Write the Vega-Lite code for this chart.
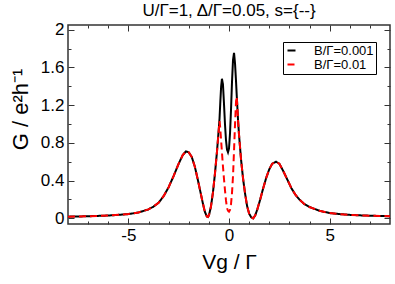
{
  "$schema": "https://vega.github.io/schema/vega-lite/v6.json",
  "width": 322,
  "height": 199,
  "autosize": {"type": "none"},
  "padding": {"left": 68, "top": 25, "right": 5, "bottom": 60},
  "config": {
    "font": "Liberation Sans",
    "view": {"stroke": "#333", "strokeWidth": 1.5},
    "axis": {"grid": false, "domain": false, "tickColor": "#333", "tickWidth": 1, "labelFont": "Liberation Sans", "titleFont": "Liberation Sans", "labelColor": "black", "titleColor": "black", "titleFontWeight": "normal"}
  },
  "title": {"text": "U/Γ=1, Δ/Γ=0.05, s={--}", "fontSize": 17, "fontWeight": "normal", "font": "Liberation Sans", "frame": "group", "anchor": "middle", "offset": 1},
  "datasets": {
    "g": [
      {"x": -8, "g": 0.018, "s": "B/Γ=0.001"}, {"x": -7.5, "g": 0.02, "s": "B/Γ=0.001"}, {"x": -7, "g": 0.022, "s": "B/Γ=0.001"}, {"x": -6.5, "g": 0.026, "s": "B/Γ=0.001"}, {"x": -6, "g": 0.03, "s": "B/Γ=0.001"}, {"x": -5.5, "g": 0.037, "s": "B/Γ=0.001"}, {"x": -5, "g": 0.045, "s": "B/Γ=0.001"}, {"x": -4.5, "g": 0.062, "s": "B/Γ=0.001"}, {"x": -4, "g": 0.095, "s": "B/Γ=0.001"}, {"x": -3.75, "g": 0.125, "s": "B/Γ=0.001"}, {"x": -3.5, "g": 0.165, "s": "B/Γ=0.001"}, {"x": -3.25, "g": 0.235, "s": "B/Γ=0.001"}, {"x": -3, "g": 0.33, "s": "B/Γ=0.001"}, {"x": -2.75, "g": 0.45, "s": "B/Γ=0.001"}, {"x": -2.5, "g": 0.58, "s": "B/Γ=0.001"}, {"x": -2.3, "g": 0.67, "s": "B/Γ=0.001"}, {"x": -2.14, "g": 0.71, "s": "B/Γ=0.001"}, {"x": -2.0, "g": 0.7, "s": "B/Γ=0.001"}, {"x": -1.85, "g": 0.65, "s": "B/Γ=0.001"}, {"x": -1.7, "g": 0.55, "s": "B/Γ=0.001"}, {"x": -1.55, "g": 0.41, "s": "B/Γ=0.001"}, {"x": -1.4, "g": 0.26, "s": "B/Γ=0.001"}, {"x": -1.3, "g": 0.16, "s": "B/Γ=0.001"}, {"x": -1.2, "g": 0.07, "s": "B/Γ=0.001"}, {"x": -1.1, "g": 0.02, "s": "B/Γ=0.001"}, {"x": -1.05, "g": 0.015, "s": "B/Γ=0.001"}, {"x": -1.0, "g": 0.03, "s": "B/Γ=0.001"}, {"x": -0.9, "g": 0.12, "s": "B/Γ=0.001"}, {"x": -0.8, "g": 0.27, "s": "B/Γ=0.001"}, {"x": -0.7, "g": 0.47, "s": "B/Γ=0.001"}, {"x": -0.6, "g": 0.7, "s": "B/Γ=0.001"}, {"x": -0.5, "g": 0.97, "s": "B/Γ=0.001"}, {"x": -0.47, "g": 1.06, "s": "B/Γ=0.001"}, {"x": -0.43, "g": 1.24, "s": "B/Γ=0.001"}, {"x": -0.39, "g": 1.4, "s": "B/Γ=0.001"}, {"x": -0.35, "g": 1.48, "s": "B/Γ=0.001"}, {"x": -0.3, "g": 1.42, "s": "B/Γ=0.001"}, {"x": -0.25, "g": 1.22, "s": "B/Γ=0.001"}, {"x": -0.2, "g": 1.0, "s": "B/Γ=0.001"}, {"x": -0.15, "g": 0.83, "s": "B/Γ=0.001"}, {"x": -0.1, "g": 0.73, "s": "B/Γ=0.001"}, {"x": -0.05, "g": 0.7, "s": "B/Γ=0.001"}, {"x": 0.0, "g": 0.74, "s": "B/Γ=0.001"}, {"x": 0.05, "g": 0.9, "s": "B/Γ=0.001"}, {"x": 0.1, "g": 1.15, "s": "B/Γ=0.001"}, {"x": 0.15, "g": 1.45, "s": "B/Γ=0.001"}, {"x": 0.2, "g": 1.68, "s": "B/Γ=0.001"}, {"x": 0.25, "g": 1.755, "s": "B/Γ=0.001"}, {"x": 0.3, "g": 1.64, "s": "B/Γ=0.001"}, {"x": 0.35, "g": 1.45, "s": "B/Γ=0.001"}, {"x": 0.38, "g": 1.32, "s": "B/Γ=0.001"}, {"x": 0.4, "g": 1.24, "s": "B/Γ=0.001"}, {"x": 0.45, "g": 1.04, "s": "B/Γ=0.001"}, {"x": 0.5, "g": 0.88, "s": "B/Γ=0.001"}, {"x": 0.6, "g": 0.62, "s": "B/Γ=0.001"}, {"x": 0.7, "g": 0.42, "s": "B/Γ=0.001"}, {"x": 0.8, "g": 0.26, "s": "B/Γ=0.001"}, {"x": 0.9, "g": 0.13, "s": "B/Γ=0.001"}, {"x": 1.0, "g": 0.05, "s": "B/Γ=0.001"}, {"x": 1.1, "g": 0.012, "s": "B/Γ=0.001"}, {"x": 1.2, "g": 0.0, "s": "B/Γ=0.001"}, {"x": 1.3, "g": 0.03, "s": "B/Γ=0.001"}, {"x": 1.4, "g": 0.09, "s": "B/Γ=0.001"}, {"x": 1.55, "g": 0.2, "s": "B/Γ=0.001"}, {"x": 1.7, "g": 0.32, "s": "B/Γ=0.001"}, {"x": 1.85, "g": 0.43, "s": "B/Γ=0.001"}, {"x": 2.0, "g": 0.52, "s": "B/Γ=0.001"}, {"x": 2.15, "g": 0.58, "s": "B/Γ=0.001"}, {"x": 2.34, "g": 0.6, "s": "B/Γ=0.001"}, {"x": 2.5, "g": 0.58, "s": "B/Γ=0.001"}, {"x": 2.7, "g": 0.5, "s": "B/Γ=0.001"}, {"x": 2.9, "g": 0.41, "s": "B/Γ=0.001"}, {"x": 3.1, "g": 0.32, "s": "B/Γ=0.001"}, {"x": 3.3, "g": 0.25, "s": "B/Γ=0.001"}, {"x": 3.5, "g": 0.2, "s": "B/Γ=0.001"}, {"x": 3.75, "g": 0.15, "s": "B/Γ=0.001"}, {"x": 4, "g": 0.12, "s": "B/Γ=0.001"}, {"x": 4.5, "g": 0.08, "s": "B/Γ=0.001"}, {"x": 5, "g": 0.056, "s": "B/Γ=0.001"}, {"x": 5.5, "g": 0.045, "s": "B/Γ=0.001"}, {"x": 6, "g": 0.037, "s": "B/Γ=0.001"}, {"x": 6.5, "g": 0.032, "s": "B/Γ=0.001"}, {"x": 7, "g": 0.028, "s": "B/Γ=0.001"}, {"x": 7.5, "g": 0.025, "s": "B/Γ=0.001"}, {"x": 8, "g": 0.022, "s": "B/Γ=0.001"},

      {"x": -8, "g": 0.018, "s": "B/Γ=0.01"}, {"x": -7.5, "g": 0.02, "s": "B/Γ=0.01"}, {"x": -7, "g": 0.022, "s": "B/Γ=0.01"}, {"x": -6.5, "g": 0.026, "s": "B/Γ=0.01"}, {"x": -6, "g": 0.03, "s": "B/Γ=0.01"}, {"x": -5.5, "g": 0.037, "s": "B/Γ=0.01"}, {"x": -5, "g": 0.045, "s": "B/Γ=0.01"}, {"x": -4.5, "g": 0.062, "s": "B/Γ=0.01"}, {"x": -4, "g": 0.095, "s": "B/Γ=0.01"}, {"x": -3.75, "g": 0.125, "s": "B/Γ=0.01"}, {"x": -3.5, "g": 0.165, "s": "B/Γ=0.01"}, {"x": -3.25, "g": 0.235, "s": "B/Γ=0.01"}, {"x": -3, "g": 0.33, "s": "B/Γ=0.01"}, {"x": -2.75, "g": 0.45, "s": "B/Γ=0.01"}, {"x": -2.5, "g": 0.58, "s": "B/Γ=0.01"}, {"x": -2.3, "g": 0.67, "s": "B/Γ=0.01"}, {"x": -2.14, "g": 0.71, "s": "B/Γ=0.01"}, {"x": -2.0, "g": 0.7, "s": "B/Γ=0.01"}, {"x": -1.85, "g": 0.65, "s": "B/Γ=0.01"}, {"x": -1.7, "g": 0.55, "s": "B/Γ=0.01"}, {"x": -1.55, "g": 0.41, "s": "B/Γ=0.01"}, {"x": -1.4, "g": 0.26, "s": "B/Γ=0.01"}, {"x": -1.3, "g": 0.16, "s": "B/Γ=0.01"}, {"x": -1.2, "g": 0.07, "s": "B/Γ=0.01"}, {"x": -1.1, "g": 0.02, "s": "B/Γ=0.01"}, {"x": -1.05, "g": 0.015, "s": "B/Γ=0.01"}, {"x": -1.0, "g": 0.03, "s": "B/Γ=0.01"}, {"x": -0.9, "g": 0.12, "s": "B/Γ=0.01"}, {"x": -0.8, "g": 0.27, "s": "B/Γ=0.01"}, {"x": -0.7, "g": 0.47, "s": "B/Γ=0.01"}, {"x": -0.6, "g": 0.7, "s": "B/Γ=0.01"}, {"x": -0.5, "g": 0.96, "s": "B/Γ=0.01"}, {"x": -0.47, "g": 1.03, "s": "B/Γ=0.01"}, {"x": -0.44, "g": 0.97, "s": "B/Γ=0.01"}, {"x": -0.4, "g": 0.85, "s": "B/Γ=0.01"}, {"x": -0.35, "g": 0.7, "s": "B/Γ=0.01"}, {"x": -0.3, "g": 0.55, "s": "B/Γ=0.01"}, {"x": -0.25, "g": 0.42, "s": "B/Γ=0.01"}, {"x": -0.2, "g": 0.3, "s": "B/Γ=0.01"}, {"x": -0.15, "g": 0.19, "s": "B/Γ=0.01"}, {"x": -0.1, "g": 0.11, "s": "B/Γ=0.01"}, {"x": -0.05, "g": 0.08, "s": "B/Γ=0.01"}, {"x": 0.0, "g": 0.07, "s": "B/Γ=0.01"}, {"x": 0.05, "g": 0.09, "s": "B/Γ=0.01"}, {"x": 0.1, "g": 0.15, "s": "B/Γ=0.01"}, {"x": 0.15, "g": 0.27, "s": "B/Γ=0.01"}, {"x": 0.2, "g": 0.45, "s": "B/Γ=0.01"}, {"x": 0.25, "g": 0.72, "s": "B/Γ=0.01"}, {"x": 0.3, "g": 1.0, "s": "B/Γ=0.01"}, {"x": 0.35, "g": 1.24, "s": "B/Γ=0.01"}, {"x": 0.38, "g": 1.29, "s": "B/Γ=0.01"}, {"x": 0.4, "g": 1.24, "s": "B/Γ=0.01"}, {"x": 0.45, "g": 1.04, "s": "B/Γ=0.01"}, {"x": 0.5, "g": 0.88, "s": "B/Γ=0.01"}, {"x": 0.6, "g": 0.62, "s": "B/Γ=0.01"}, {"x": 0.7, "g": 0.42, "s": "B/Γ=0.01"}, {"x": 0.8, "g": 0.26, "s": "B/Γ=0.01"}, {"x": 0.9, "g": 0.13, "s": "B/Γ=0.01"}, {"x": 1.0, "g": 0.05, "s": "B/Γ=0.01"}, {"x": 1.1, "g": 0.012, "s": "B/Γ=0.01"}, {"x": 1.2, "g": 0.0, "s": "B/Γ=0.01"}, {"x": 1.3, "g": 0.03, "s": "B/Γ=0.01"}, {"x": 1.4, "g": 0.09, "s": "B/Γ=0.01"}, {"x": 1.55, "g": 0.2, "s": "B/Γ=0.01"}, {"x": 1.7, "g": 0.32, "s": "B/Γ=0.01"}, {"x": 1.85, "g": 0.43, "s": "B/Γ=0.01"}, {"x": 2.0, "g": 0.52, "s": "B/Γ=0.01"}, {"x": 2.15, "g": 0.58, "s": "B/Γ=0.01"}, {"x": 2.34, "g": 0.6, "s": "B/Γ=0.01"}, {"x": 2.5, "g": 0.58, "s": "B/Γ=0.01"}, {"x": 2.7, "g": 0.5, "s": "B/Γ=0.01"}, {"x": 2.9, "g": 0.41, "s": "B/Γ=0.01"}, {"x": 3.1, "g": 0.32, "s": "B/Γ=0.01"}, {"x": 3.3, "g": 0.25, "s": "B/Γ=0.01"}, {"x": 3.5, "g": 0.2, "s": "B/Γ=0.01"}, {"x": 3.75, "g": 0.15, "s": "B/Γ=0.01"}, {"x": 4, "g": 0.12, "s": "B/Γ=0.01"}, {"x": 4.5, "g": 0.08, "s": "B/Γ=0.01"}, {"x": 5, "g": 0.056, "s": "B/Γ=0.01"}, {"x": 5.5, "g": 0.045, "s": "B/Γ=0.01"}, {"x": 6, "g": 0.037, "s": "B/Γ=0.01"}, {"x": 6.5, "g": 0.032, "s": "B/Γ=0.01"}, {"x": 7, "g": 0.028, "s": "B/Γ=0.01"}, {"x": 7.5, "g": 0.025, "s": "B/Γ=0.01"}, {"x": 8, "g": 0.022, "s": "B/Γ=0.01"}
    ]
  },
  "data": {"name": "g"},
  "resolve": {"scale": {"x": "shared", "y": "shared"}, "axis": {"x": "independent", "y": "independent"}},
  "layer": [
    {
      "mark": {"type": "line", "strokeWidth": 2, "clip": true},
      "encoding": {
        "x": {"field": "x", "type": "quantitative", "scale": {"domain": [-8, 8], "nice": false, "zero": false},
          "axis": {"orient": "bottom", "values": [-5, 0, 5], "tickSize": -6, "labelPadding": 9, "labelFontSize": 17, "labelExpr": "'' + datum.value", "title": "Vg / Γ", "titleFontSize": 21, "titleBaseline": "alphabetic", "titleY": 44}},
        "y": {"field": "g", "type": "quantitative", "scale": {"domain": [-0.06, 2.05], "nice": false, "zero": false},
          "axis": {"orient": "left", "values": [0, 0.4, 0.8, 1.2, 1.6, 2], "tickSize": -6, "labelPadding": 10, "labelFontSize": 17, "format": "~g", "title": "G / e²h⁻¹", "titleFontSize": 22, "titleBaseline": "alphabetic", "titleX": -41, "titleY": 84}},
        "color": {"field": "s", "type": "nominal", "scale": {"domain": ["B/Γ=0.001", "B/Γ=0.01"], "range": ["black", "#ff0000"]},
          "legend": {"title": null, "orient": "none", "legendX": 215, "legendY": 17, "padding": 2, "rowPadding": 0, "strokeColor": "black", "fillColor": "white", "symbolType": "stroke", "symbolSize": 64, "symbolStrokeWidth": 2, "labelOffset": 16, "labelFontSize": 13, "labelFont": "Liberation Sans", "cornerRadius": 0}},
        "strokeDash": {"field": "s", "type": "nominal", "scale": {"domain": ["B/Γ=0.001", "B/Γ=0.01"], "range": [[1, 0], [7, 4]]}, "legend": null}
      }
    },
    {
      "mark": {"type": "line", "opacity": 0},
      "encoding": {
        "x": {"field": "x", "type": "quantitative", "scale": {"domain": [-8, 8], "nice": false, "zero": false},
          "axis": {"orient": "bottom", "values": [-7, -6, -4, -3, -2, -1, 1, 2, 3, 4, 6, 7], "tickSize": -3, "labels": false, "title": null}},
        "y": {"field": "g", "type": "quantitative", "scale": {"domain": [-0.06, 2.05], "nice": false, "zero": false},
          "axis": {"orient": "left", "values": [0.2, 0.6, 1.0, 1.4, 1.8], "tickSize": -3, "labels": false, "title": null}}
      }
    },
    {
      "mark": {"type": "line", "opacity": 0},
      "encoding": {
        "x": {"field": "x", "type": "quantitative", "scale": {"domain": [-8, 8], "nice": false, "zero": false},
          "axis": {"orient": "top", "values": [-5, 0, 5], "tickSize": -6, "labels": false, "title": null}},
        "y": {"field": "g", "type": "quantitative", "scale": {"domain": [-0.06, 2.05], "nice": false, "zero": false},
          "axis": {"orient": "right", "values": [0, 0.4, 0.8, 1.2, 1.6, 2], "tickSize": -6, "labels": false, "title": null}}
      }
    },
    {
      "mark": {"type": "line", "opacity": 0},
      "encoding": {
        "x": {"field": "x", "type": "quantitative", "scale": {"domain": [-8, 8], "nice": false, "zero": false},
          "axis": {"orient": "top", "values": [-7, -6, -4, -3, -2, -1, 1, 2, 3, 4, 6, 7], "tickSize": -3, "labels": false, "title": null}},
        "y": {"field": "g", "type": "quantitative", "scale": {"domain": [-0.06, 2.05], "nice": false, "zero": false},
          "axis": {"orient": "right", "values": [0.2, 0.6, 1.0, 1.4, 1.8], "tickSize": -3, "labels": false, "title": null}}
      }
    }
  ]
}
